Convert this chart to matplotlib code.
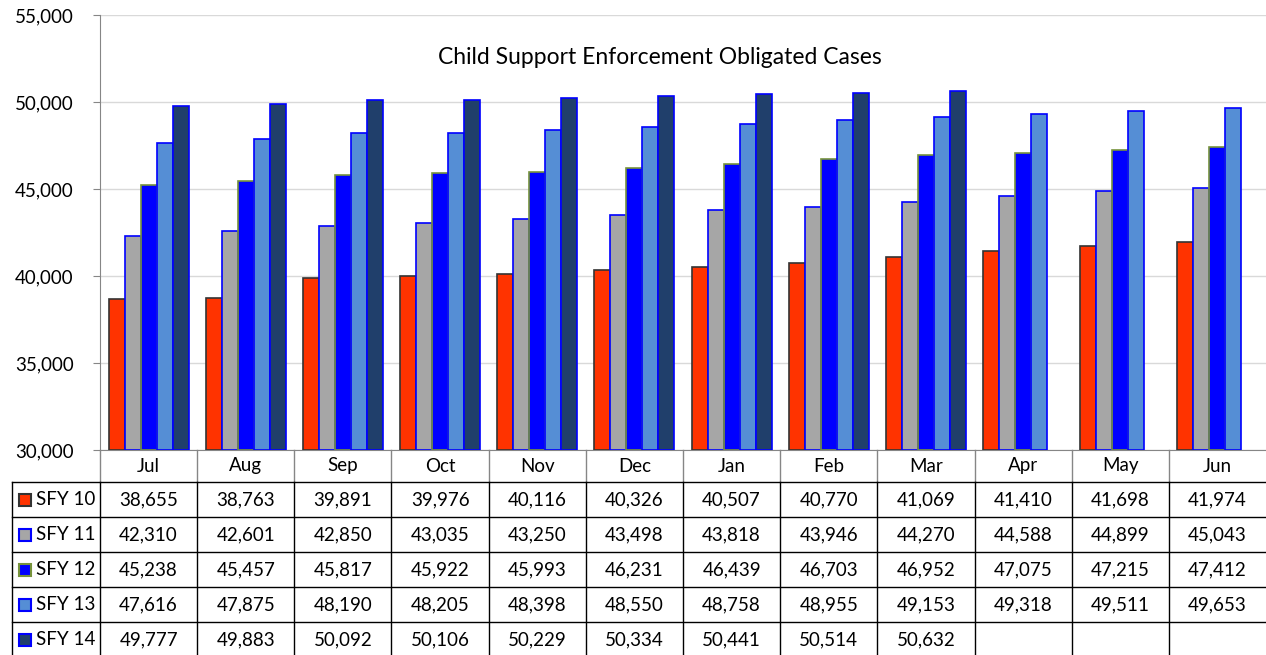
import numpy as np
import matplotlib
matplotlib.use("Agg")
import matplotlib.pyplot as plt
from matplotlib.patches import Rectangle
from matplotlib.lines import Line2D
import matplotlib.transforms as mtransforms

plt.rcParams["font.family"] = ["Lato", "DejaVu Sans"]

months = ["Jul", "Aug", "Sep", "Oct", "Nov", "Dec", "Jan", "Feb", "Mar", "Apr", "May", "Jun"]
series_names = ["SFY 10", "SFY 11", "SFY 12", "SFY 13", "SFY 14"]
sfy10 = [38655, 38763, 39891, 39976, 40116, 40326, 40507, 40770, 41069, 41410, 41698, 41974]
sfy11 = [42310, 42601, 42850, 43035, 43250, 43498, 43818, 43946, 44270, 44588, 44899, 45043]
sfy12 = [45238, 45457, 45817, 45922, 45993, 46231, 46439, 46703, 46952, 47075, 47215, 47412]
sfy13 = [47616, 47875, 48190, 48205, 48398, 48550, 48758, 48955, 49153, 49318, 49511, 49653]
sfy14 = [49777, 49883, 50092, 50106, 50229, 50334, 50441, 50514, 50632, None, None, None]

fills = ["#FF3300", "#A6A6A6", "#0000FF", "#558ED5", "#203F6B"]
edges = ["#333333", "#0000FF", "#77933C", "#0000FF", "#0000FF"]

W, H = 1266, 655
fs = 13.5
fig = plt.figure(figsize=(W / 100, H / 100), dpi=100)
ax = fig.add_axes([100 / W, 1 - 450 / H, 1166 / W, 435 / H])

x = np.arange(len(months))
bw = 0.165
all_series = [sfy10, sfy11, sfy12, sfy13, sfy14]
for k, vals in enumerate(all_series):
    v = np.array([np.nan if a is None else a for a in vals], dtype=float)
    ax.bar(x + (k - 2) * bw, v - 30000, bw, bottom=30000, color=fills[k],
           edgecolor=edges[k], linewidth=1.2, zorder=3)

ax.set_xlim(-0.5, len(months) - 0.5)
ax.set_ylim(30000, 55000)
ax.set_yticks(np.arange(30000, 55001, 5000))
ax.set_yticklabels([f"{t:,}" for t in range(30000, 55001, 5000)], fontsize=fs)
ax.set_xticks([])
ax.grid(axis="y", color="#D9D9D9", linewidth=1, zorder=0)
for s in ["top", "right"]:
    ax.spines[s].set_visible(False)
ax.spines["left"].set_color("#868686")
ax.spines["bottom"].set_color("#868686")
ax.tick_params(axis="y", length=5, color="#868686", pad=14)

ax.text(0.48, 0.903, "Child Support Enforcement Obligated Cases", transform=ax.transAxes,
        ha="center", va="center", fontsize=16.5)

# data table below the axes
tr = mtransforms.blended_transform_factory(ax.transData, fig.transFigure)
def fy(py):
    return 1 - py / H

row_h = 35
header_top, header_bot = 450, 482
rows_y = [header_bot + i * row_h for i in range(len(series_names) + 1)]

for i, m in enumerate(months):
    fig.text(i, fy((header_top + header_bot) / 2), m, transform=tr, ha="center", va="center", fontsize=fs)
    fig.add_artist(Line2D([i - 0.5, i - 0.5], [fy(header_top), fy(header_bot)], transform=tr,
                          color="#868686", linewidth=1))

left_px = 12
for yy in rows_y[:-1]:
    fig.add_artist(Line2D([left_px / W, 1], [fy(yy), fy(yy)], color="black", linewidth=1))
fig.add_artist(Line2D([left_px / W] * 2, [fy(rows_y[0]), fy(rows_y[-1])], color="black", linewidth=1))
for i in range(len(months)):
    fig.add_artist(Line2D([i - 0.5, i - 0.5], [fy(rows_y[0]), fy(rows_y[-1])], transform=tr,
                          color="black", linewidth=1))

for r, (name, vals) in enumerate(zip(series_names, all_series)):
    yc = (rows_y[r] + rows_y[r + 1]) / 2
    fig.add_artist(Rectangle((19 / W, fy(yc + 6.5)), 12 / W, 12 / H, transform=fig.transFigure,
                             facecolor=fills[r], edgecolor=edges[r], linewidth=1.5))
    fig.text(36 / W, fy(yc), name, ha="left", va="center", fontsize=fs)
    for i, v in enumerate(vals):
        if v is not None:
            fig.text(i, fy(yc), f"{v:,}", transform=tr, ha="center", va="center", fontsize=fs)

fig.savefig("out.png", dpi=100)
